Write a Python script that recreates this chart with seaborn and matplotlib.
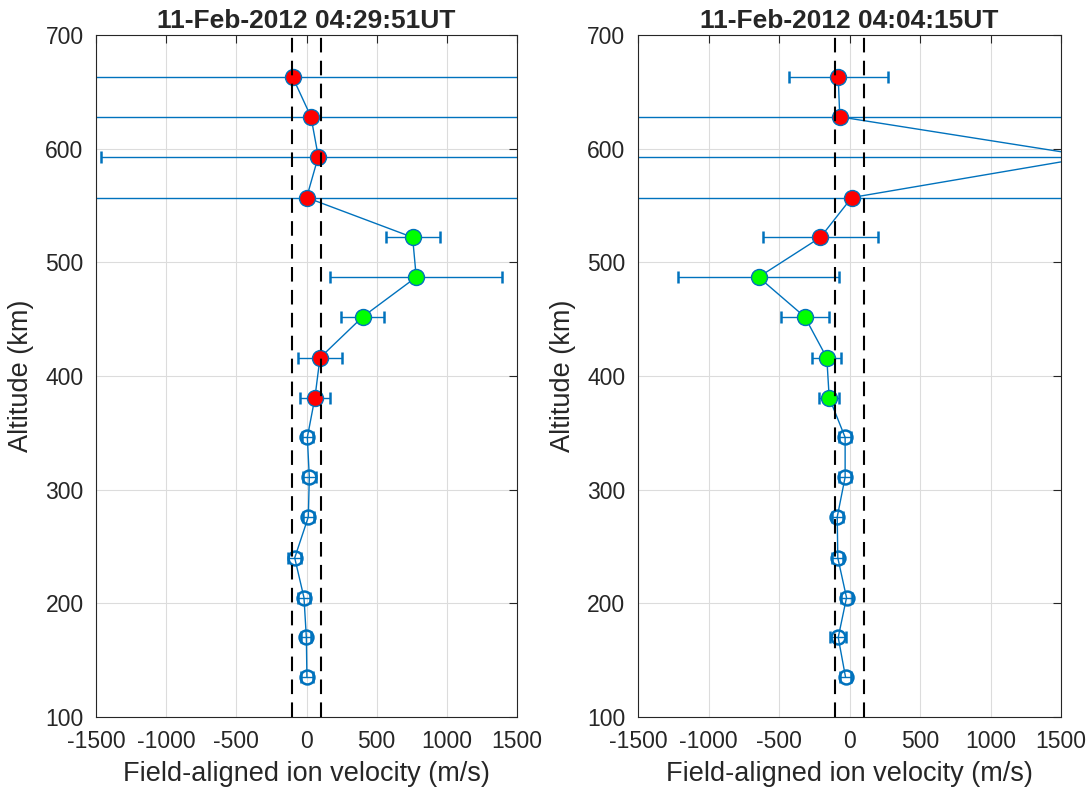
import numpy as np
import pandas as pd
import matplotlib
matplotlib.use("Agg")
import matplotlib.pyplot as plt
import seaborn as sns
from matplotlib import font_manager

sns.set_theme(style="white")
avail = {f.name for f in font_manager.fontManager.ttflist}
fam = [f for f in ["Liberation Sans Narrow", "Liberation Sans", "DejaVu Sans"] if f in avail]
plt.rcParams['font.family'] = fam
plt.rcParams['axes.unicode_minus'] = False

altitude = [135, 170, 205, 240, 276, 311, 346, 381, 416, 452, 487, 522, 557, 593, 628, 663]

vel_left = [3, -1, -18, -84, 13, 20, 6, 60, 96, 400, 782, 756, 1, 84, 32, -99]
err_left = [40, 35, 40, 45, 40, 45, 40, 104, 159, 153, 614, 193, 3000, 1551, 3000, 3000]
cls_left = ["open"] * 7 + ["red", "red", "green", "green", "green", "red", "red", "red", "red"]

vel_right = [-28, -80, -21, -83, -87, -31, -31, -144, -161, -317, -645, -206, 16, 1720, -69, -80]
err_right = [40, 58, 40, 40, 40, 40, 45, 71, 102, 171, 568, 409, 3000, 4500, 3000, 350]
cls_right = ["open"] * 7 + ["green", "green", "green", "green", "red", "red", "red", "red", "red"]

titles = ["11-Feb-2012 04:29:51UT", "11-Feb-2012 04:04:15UT"]
xticks = [-1500, -1000, -500, 0, 500, 1000, 1500]
yticks = [100, 200, 300, 400, 500, 600, 700]
threshold = 100

BLUE = "#0072BD"
fill = {"open": "none", "red": "#FF0000", "green": "#00FF00"}

fig = plt.figure(figsize=(10.92, 8.01), dpi=100)
axL = fig.add_axes([96/1092, 84/801, 421/1092, 682/801])
axR = fig.add_axes([638/1092, 84/801, 423/1092, 682/801])

for ax, vel, err, cls, title in [(axL, vel_left, err_left, cls_left, titles[0]),
                                  (axR, vel_right, err_right, cls_right, titles[1])]:
    df = pd.DataFrame({"alt": altitude, "vel": vel, "err": err, "cls": cls})
    ax.set_xlim(-1500, 1500)
    ax.set_ylim(100, 700)
    ax.grid(True, color="#dcdcdc", linewidth=0.8)
    ax.set_axisbelow(True)
    ax.errorbar(df["vel"], df["alt"], xerr=df["err"], fmt="none", ecolor=BLUE,
                elinewidth=1.0, capsize=4.5, capthick=1.8, zorder=2)
    sns.lineplot(data=df, x="vel", y="alt", sort=False, orient="y", ax=ax,
                 color=BLUE, linewidth=1.0, zorder=3, estimator=None)
    for c in ["open", "red", "green"]:
        sub = df[df["cls"] == c]
        if c == "open":
            ax.plot(sub["vel"], sub["alt"], "o", ms=10, mfc="none", mec=BLUE,
                    mew=1.8, linestyle="none", zorder=4)
        else:
            ax.plot(sub["vel"], sub["alt"], "o", ms=11.5, mfc=fill[c], mec=BLUE,
                    mew=1.0, linestyle="none", zorder=4)
    for t in (-threshold, threshold):
        ax.axvline(t, color="black", linestyle=(0, (7, 4)), linewidth=1.5, zorder=5)
    ax.set_xticks(xticks)
    ax.set_yticks(yticks)
    ax.tick_params(direction="in", length=6, width=0.8, top=True, right=True,
                   labelsize=16.5, colors="#262626")
    ax.tick_params(axis="x", pad=9)
    ax.tick_params(axis="y", pad=9)
    for s in ax.spines.values():
        s.set_color("#262626")
        s.set_linewidth(0.8)
        s.set_visible(True)
    ax.set_title(title, fontsize=19, fontweight="bold", pad=5)
    ax.set_xlabel("Field-aligned ion velocity (m/s)", fontsize=19.5, color="#262626", labelpad=6)
    ax.set_ylabel("Altitude (km)", fontsize=19.5, color="#262626", labelpad=8)

fig.savefig("out.png", dpi=100)
